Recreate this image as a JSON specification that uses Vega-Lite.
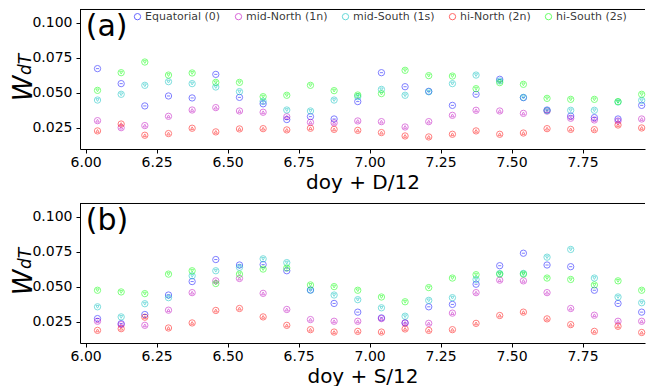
{
"$schema": "https://vega.github.io/schema/vega-lite/v6.json",
"padding": {"left": 10, "top": 8, "right": 0, "bottom": 0},
"spacing": 10,
"config": {
  "font": "DejaVu Sans",
  "view": {"stroke": null},
  "axis": {"grid": false, "domainColor": "#000", "tickColor": "#000", "labelColor": "#000", "titleColor": "#000", "labelFontSize": 14, "titleFontSize": 20, "titleFontWeight": "normal", "tickSize": 4, "labelPadding": 2, "titlePadding": 3, "labelFont": "DejaVu Sans", "titleFont": "DejaVu Sans"},
  "point": {"filled": false, "strokeWidth": 1, "opacity": 0.5}
},
"resolve": {"scale": {"color": "independent", "stroke": "independent"}, "legend": {"color": "independent", "stroke": "independent"}},
"datasets": {
"a": [
{"x":6.0417,"s":"Equatorial (0)","w":0.0673},{"x":6.0417,"s":"mid-North (1n)","w":0.0302},{"x":6.0417,"s":"mid-South (1s)","w":0.0449},{"x":6.0417,"s":"hi-North (2n)","w":0.0229},{"x":6.0417,"s":"hi-South (2s)","w":0.0518},
{"x":6.125,"s":"Equatorial (0)","w":0.0566},{"x":6.125,"s":"mid-North (1n)","w":0.0252},{"x":6.125,"s":"mid-South (1s)","w":0.0490},{"x":6.125,"s":"hi-North (2n)","w":0.0278},{"x":6.125,"s":"hi-South (2s)","w":0.0644},
{"x":6.2083,"s":"Equatorial (0)","w":0.0407},{"x":6.2083,"s":"mid-North (1n)","w":0.0267},{"x":6.2083,"s":"mid-South (1s)","w":0.0554},{"x":6.2083,"s":"hi-North (2n)","w":0.0198},{"x":6.2083,"s":"hi-South (2s)","w":0.0720},
{"x":6.2917,"s":"Equatorial (0)","w":0.0478},{"x":6.2917,"s":"mid-North (1n)","w":0.0333},{"x":6.2917,"s":"mid-South (1s)","w":0.0580},{"x":6.2917,"s":"hi-North (2n)","w":0.0210},{"x":6.2917,"s":"hi-South (2s)","w":0.0627},
{"x":6.375,"s":"Equatorial (0)","w":0.0464},{"x":6.375,"s":"mid-North (1n)","w":0.0378},{"x":6.375,"s":"mid-South (1s)","w":0.0566},{"x":6.375,"s":"hi-North (2n)","w":0.0248},{"x":6.375,"s":"hi-South (2s)","w":0.0642},
{"x":6.4583,"s":"Equatorial (0)","w":0.0632},{"x":6.4583,"s":"mid-North (1n)","w":0.0395},{"x":6.4583,"s":"mid-South (1s)","w":0.0542},{"x":6.4583,"s":"hi-North (2n)","w":0.0222},{"x":6.4583,"s":"hi-South (2s)","w":0.0575},
{"x":6.5417,"s":"Equatorial (0)","w":0.0468},{"x":6.5417,"s":"mid-North (1n)","w":0.0371},{"x":6.5417,"s":"mid-South (1s)","w":0.0509},{"x":6.5417,"s":"hi-North (2n)","w":0.0243},{"x":6.5417,"s":"hi-South (2s)","w":0.0575},
{"x":6.625,"s":"Equatorial (0)","w":0.0422},{"x":6.625,"s":"mid-North (1n)","w":0.0362},{"x":6.625,"s":"mid-South (1s)","w":0.0440},{"x":6.625,"s":"hi-North (2n)","w":0.0245},{"x":6.625,"s":"hi-South (2s)","w":0.0473},
{"x":6.7083,"s":"Equatorial (0)","w":0.0310},{"x":6.7083,"s":"mid-North (1n)","w":0.0330},{"x":6.7083,"s":"mid-South (1s)","w":0.0378},{"x":6.7083,"s":"hi-North (2n)","w":0.0236},{"x":6.7083,"s":"hi-South (2s)","w":0.0483},
{"x":6.7917,"s":"Equatorial (0)","w":0.0331},{"x":6.7917,"s":"mid-North (1n)","w":0.0290},{"x":6.7917,"s":"mid-South (1s)","w":0.0371},{"x":6.7917,"s":"hi-North (2n)","w":0.0248},{"x":6.7917,"s":"hi-South (2s)","w":0.0554},
{"x":6.875,"s":"Equatorial (0)","w":0.0314},{"x":6.875,"s":"mid-North (1n)","w":0.0286},{"x":6.875,"s":"mid-South (1s)","w":0.0449},{"x":6.875,"s":"hi-North (2n)","w":0.0240},{"x":6.875,"s":"hi-South (2s)","w":0.0516},
{"x":6.9583,"s":"Equatorial (0)","w":0.0438},{"x":6.9583,"s":"mid-North (1n)","w":0.0300},{"x":6.9583,"s":"mid-South (1s)","w":0.0473},{"x":6.9583,"s":"hi-North (2n)","w":0.0233},{"x":6.9583,"s":"hi-South (2s)","w":0.0485},
{"x":7.0417,"s":"Equatorial (0)","w":0.0644},{"x":7.0417,"s":"mid-North (1n)","w":0.0295},{"x":7.0417,"s":"mid-South (1s)","w":0.0525},{"x":7.0417,"s":"hi-North (2n)","w":0.0217},{"x":7.0417,"s":"hi-South (2s)","w":0.0495},
{"x":7.125,"s":"Equatorial (0)","w":0.0544},{"x":7.125,"s":"mid-North (1n)","w":0.0257},{"x":7.125,"s":"mid-South (1s)","w":0.0483},{"x":7.125,"s":"hi-North (2n)","w":0.0193},{"x":7.125,"s":"hi-South (2s)","w":0.0661},
{"x":7.2083,"s":"Equatorial (0)","w":0.0511},{"x":7.2083,"s":"mid-North (1n)","w":0.0295},{"x":7.2083,"s":"mid-South (1s)","w":0.0508},{"x":7.2083,"s":"hi-North (2n)","w":0.0186},{"x":7.2083,"s":"hi-South (2s)","w":0.0623},
{"x":7.2917,"s":"Equatorial (0)","w":0.0411},{"x":7.2917,"s":"mid-North (1n)","w":0.0340},{"x":7.2917,"s":"mid-South (1s)","w":0.0566},{"x":7.2917,"s":"hi-North (2n)","w":0.0205},{"x":7.2917,"s":"hi-South (2s)","w":0.0620},
{"x":7.375,"s":"Equatorial (0)","w":0.0490},{"x":7.375,"s":"mid-North (1n)","w":0.0376},{"x":7.375,"s":"mid-South (1s)","w":0.0627},{"x":7.375,"s":"hi-North (2n)","w":0.0229},{"x":7.375,"s":"hi-South (2s)","w":0.0530},
{"x":7.4583,"s":"Equatorial (0)","w":0.0597},{"x":7.4583,"s":"mid-North (1n)","w":0.0371},{"x":7.4583,"s":"mid-South (1s)","w":0.0585},{"x":7.4583,"s":"hi-North (2n)","w":0.0205},{"x":7.4583,"s":"hi-South (2s)","w":0.0573},
{"x":7.5417,"s":"Equatorial (0)","w":0.0466},{"x":7.5417,"s":"mid-North (1n)","w":0.0354},{"x":7.5417,"s":"mid-South (1s)","w":0.0468},{"x":7.5417,"s":"hi-North (2n)","w":0.0214},{"x":7.5417,"s":"hi-South (2s)","w":0.0561},
{"x":7.625,"s":"Equatorial (0)","w":0.0378},{"x":7.625,"s":"mid-North (1n)","w":0.0370},{"x":7.625,"s":"mid-South (1s)","w":0.0374},{"x":7.625,"s":"hi-North (2n)","w":0.0245},{"x":7.625,"s":"hi-South (2s)","w":0.0461},
{"x":7.7083,"s":"Equatorial (0)","w":0.0335},{"x":7.7083,"s":"mid-North (1n)","w":0.0319},{"x":7.7083,"s":"mid-South (1s)","w":0.0376},{"x":7.7083,"s":"hi-North (2n)","w":0.0240},{"x":7.7083,"s":"hi-South (2s)","w":0.0454},
{"x":7.7917,"s":"Equatorial (0)","w":0.0324},{"x":7.7917,"s":"mid-North (1n)","w":0.0307},{"x":7.7917,"s":"mid-South (1s)","w":0.0376},{"x":7.7917,"s":"hi-North (2n)","w":0.0238},{"x":7.7917,"s":"hi-South (2s)","w":0.0454},
{"x":7.875,"s":"Equatorial (0)","w":0.0314},{"x":7.875,"s":"mid-North (1n)","w":0.0300},{"x":7.875,"s":"mid-South (1s)","w":0.0435},{"x":7.875,"s":"hi-North (2n)","w":0.0271},{"x":7.875,"s":"hi-South (2s)","w":0.0438},
{"x":7.9583,"s":"Equatorial (0)","w":0.0411},{"x":7.9583,"s":"mid-North (1n)","w":0.0314},{"x":7.9583,"s":"mid-South (1s)","w":0.0447},{"x":7.9583,"s":"hi-North (2n)","w":0.0250},{"x":7.9583,"s":"hi-South (2s)","w":0.0490}
],
"b": [
{"x":6.0417,"s":"Equatorial (0)","w":0.0274},{"x":6.0417,"s":"mid-North (1n)","w":0.0255},{"x":6.0417,"s":"mid-South (1s)","w":0.0358},{"x":6.0417,"s":"hi-North (2n)","w":0.0190},{"x":6.0417,"s":"hi-South (2s)","w":0.0476},
{"x":6.125,"s":"Equatorial (0)","w":0.0238},{"x":6.125,"s":"mid-North (1n)","w":0.0231},{"x":6.125,"s":"mid-South (1s)","w":0.0286},{"x":6.125,"s":"hi-North (2n)","w":0.0202},{"x":6.125,"s":"hi-South (2s)","w":0.0464},
{"x":6.2083,"s":"Equatorial (0)","w":0.0303},{"x":6.2083,"s":"mid-North (1n)","w":0.0226},{"x":6.2083,"s":"mid-South (1s)","w":0.0380},{"x":6.2083,"s":"hi-North (2n)","w":0.0284},{"x":6.2083,"s":"hi-South (2s)","w":0.0452},
{"x":6.2917,"s":"Equatorial (0)","w":0.0442},{"x":6.2917,"s":"mid-North (1n)","w":0.0334},{"x":6.2917,"s":"mid-South (1s)","w":0.0423},{"x":6.2917,"s":"hi-North (2n)","w":0.0207},{"x":6.2917,"s":"hi-South (2s)","w":0.0591},
{"x":6.375,"s":"Equatorial (0)","w":0.0538},{"x":6.375,"s":"mid-North (1n)","w":0.0459},{"x":6.375,"s":"mid-South (1s)","w":0.0579},{"x":6.375,"s":"hi-North (2n)","w":0.0243},{"x":6.375,"s":"hi-South (2s)","w":0.0615},
{"x":6.4583,"s":"Equatorial (0)","w":0.0695},{"x":6.4583,"s":"mid-North (1n)","w":0.0543},{"x":6.4583,"s":"mid-South (1s)","w":0.0615},{"x":6.4583,"s":"hi-North (2n)","w":0.0332},{"x":6.4583,"s":"hi-South (2s)","w":0.0524},
{"x":6.5417,"s":"Equatorial (0)","w":0.0656},{"x":6.5417,"s":"mid-North (1n)","w":0.0560},{"x":6.5417,"s":"mid-South (1s)","w":0.0639},{"x":6.5417,"s":"hi-North (2n)","w":0.0346},{"x":6.5417,"s":"hi-South (2s)","w":0.0591},
{"x":6.625,"s":"Equatorial (0)","w":0.0659},{"x":6.625,"s":"mid-North (1n)","w":0.0454},{"x":6.625,"s":"mid-South (1s)","w":0.0700},{"x":6.625,"s":"hi-North (2n)","w":0.0286},{"x":6.625,"s":"hi-South (2s)","w":0.0627},
{"x":6.7083,"s":"Equatorial (0)","w":0.0615},{"x":6.7083,"s":"mid-North (1n)","w":0.0339},{"x":6.7083,"s":"mid-South (1s)","w":0.0673},{"x":6.7083,"s":"hi-North (2n)","w":0.0226},{"x":6.7083,"s":"hi-South (2s)","w":0.0635},
{"x":6.7917,"s":"Equatorial (0)","w":0.0478},{"x":6.7917,"s":"mid-North (1n)","w":0.0267},{"x":6.7917,"s":"mid-South (1s)","w":0.0476},{"x":6.7917,"s":"hi-North (2n)","w":0.0195},{"x":6.7917,"s":"hi-South (2s)","w":0.0514},
{"x":6.875,"s":"Equatorial (0)","w":0.0382},{"x":6.875,"s":"mid-North (1n)","w":0.0255},{"x":6.875,"s":"mid-South (1s)","w":0.0442},{"x":6.875,"s":"hi-North (2n)","w":0.0178},{"x":6.875,"s":"hi-South (2s)","w":0.0502},
{"x":6.9583,"s":"Equatorial (0)","w":0.0320},{"x":6.9583,"s":"mid-North (1n)","w":0.0255},{"x":6.9583,"s":"mid-South (1s)","w":0.0409},{"x":6.9583,"s":"hi-North (2n)","w":0.0183},{"x":6.9583,"s":"hi-South (2s)","w":0.0476},
{"x":7.0417,"s":"Equatorial (0)","w":0.0279},{"x":7.0417,"s":"mid-North (1n)","w":0.0274},{"x":7.0417,"s":"mid-South (1s)","w":0.0351},{"x":7.0417,"s":"hi-North (2n)","w":0.0178},{"x":7.0417,"s":"hi-South (2s)","w":0.0428},
{"x":7.125,"s":"Equatorial (0)","w":0.0243},{"x":7.125,"s":"mid-North (1n)","w":0.0243},{"x":7.125,"s":"mid-South (1s)","w":0.0291},{"x":7.125,"s":"hi-North (2n)","w":0.0200},{"x":7.125,"s":"hi-South (2s)","w":0.0394},
{"x":7.2083,"s":"Equatorial (0)","w":0.0358},{"x":7.2083,"s":"mid-North (1n)","w":0.0240},{"x":7.2083,"s":"mid-South (1s)","w":0.0404},{"x":7.2083,"s":"hi-North (2n)","w":0.0190},{"x":7.2083,"s":"hi-South (2s)","w":0.0495},
{"x":7.2917,"s":"Equatorial (0)","w":0.0375},{"x":7.2917,"s":"mid-North (1n)","w":0.0313},{"x":7.2917,"s":"mid-South (1s)","w":0.0423},{"x":7.2917,"s":"hi-North (2n)","w":0.0195},{"x":7.2917,"s":"hi-South (2s)","w":0.0563},
{"x":7.375,"s":"Equatorial (0)","w":0.0519},{"x":7.375,"s":"mid-North (1n)","w":0.0459},{"x":7.375,"s":"mid-South (1s)","w":0.0553},{"x":7.375,"s":"hi-North (2n)","w":0.0240},{"x":7.375,"s":"hi-South (2s)","w":0.0587},
{"x":7.4583,"s":"Equatorial (0)","w":0.0651},{"x":7.4583,"s":"mid-North (1n)","w":0.0548},{"x":7.4583,"s":"mid-South (1s)","w":0.0595},{"x":7.4583,"s":"hi-North (2n)","w":0.0296},{"x":7.4583,"s":"hi-South (2s)","w":0.0591},
{"x":7.5417,"s":"Equatorial (0)","w":0.0740},{"x":7.5417,"s":"mid-North (1n)","w":0.0543},{"x":7.5417,"s":"mid-South (1s)","w":0.0596},{"x":7.5417,"s":"hi-North (2n)","w":0.0320},{"x":7.5417,"s":"hi-South (2s)","w":0.0591},
{"x":7.625,"s":"Equatorial (0)","w":0.0656},{"x":7.625,"s":"mid-North (1n)","w":0.0459},{"x":7.625,"s":"mid-South (1s)","w":0.0712},{"x":7.625,"s":"hi-North (2n)","w":0.0272},{"x":7.625,"s":"hi-South (2s)","w":0.0563},
{"x":7.7083,"s":"Equatorial (0)","w":0.0644},{"x":7.7083,"s":"mid-North (1n)","w":0.0346},{"x":7.7083,"s":"mid-South (1s)","w":0.0767},{"x":7.7083,"s":"hi-North (2n)","w":0.0231},{"x":7.7083,"s":"hi-South (2s)","w":0.0553},
{"x":7.7917,"s":"Equatorial (0)","w":0.0476},{"x":7.7917,"s":"mid-North (1n)","w":0.0298},{"x":7.7917,"s":"mid-South (1s)","w":0.0563},{"x":7.7917,"s":"hi-North (2n)","w":0.0183},{"x":7.7917,"s":"hi-South (2s)","w":0.0514},
{"x":7.875,"s":"Equatorial (0)","w":0.0382},{"x":7.875,"s":"mid-North (1n)","w":0.0255},{"x":7.875,"s":"mid-South (1s)","w":0.0428},{"x":7.875,"s":"hi-North (2n)","w":0.0219},{"x":7.875,"s":"hi-South (2s)","w":0.0543},
{"x":7.9583,"s":"Equatorial (0)","w":0.0320},{"x":7.9583,"s":"mid-North (1n)","w":0.0255},{"x":7.9583,"s":"mid-South (1s)","w":0.0387},{"x":7.9583,"s":"hi-North (2n)","w":0.0175},{"x":7.9583,"s":"hi-South (2s)","w":0.0476}
]
},
"vconcat": [
{
  "width": 565, "height": 140,
  "resolve": {"axis": {"y": "independent"}},
  "layer": [
    {
      "data": {"name": "a"},
      "mark": {"type": "point", "shape": "circle", "size": 40},
      "encoding": {
        "x": {"field": "x", "type": "quantitative", "scale": {"domain": [5.98, 7.97], "nice": false, "zero": false}, "axis": {"orient": "bottom", "values": [6, 6.25, 6.5, 6.75, 7, 7.25, 7.5, 7.75], "format": ".2f", "title": "doy + D/12", "labelFlush": false}},
        "y": {"field": "w", "type": "quantitative", "scale": {"domain": [0.0100, 0.1098], "nice": false, "zero": false}, "axis": {"orient": "left", "values": [0.025, 0.05, 0.075, 0.1], "format": ".3f", "title": "W", "titleFontSize": 26, "titleFontStyle": "italic", "labelPadding": 4, "titleX": -49, "titleY": 79, "titleBaseline": "alphabetic", "titleAlign": "center"}},
        "color": {"field": "s", "type": "nominal", "sort": null,
          "scale": {"domain": ["Equatorial (0)", "mid-North (1n)", "mid-South (1s)", "hi-North (2n)", "hi-South (2s)"], "range": ["#0000ff", "#bf00bf", "#00bfbf", "#ff0000", "#00ff00"]},
          "legend": {"orient": "none", "legendX": 52, "legendY": 2, "direction": "horizontal", "columns": 5, "title": null, "labelFontSize": 11, "labelFont": "DejaVu Sans", "symbolSize": 40, "symbolStrokeWidth": 1, "symbolOpacity": 0.6, "symbolType": "circle", "labelOffset": 2, "columnPadding": 12, "labelOpacity": 0.8,
            "encode": {"labels": {"update": {"fill": {"signal": "datum.value == 'Equatorial (0)' ? '#0000ff' : datum.value == 'mid-North (1n)' ? '#bf00bf' : datum.value == 'mid-South (1s)' ? '#00bfbf' : datum.value == 'hi-North (2n)' ? '#ff0000' : '#00ff00'"}}}}}
        }
      }
    },
    {
      "data": {"name": "a"},
      "transform": [{"filter": {"field": "s", "equal": "Equatorial (0)"}}],
      "mark": {"type": "point", "shape": "stroke", "size": 10},
      "encoding": {
        "x": {"field": "x", "type": "quantitative"},
        "y": {"field": "w", "type": "quantitative", "axis": null},
        "stroke": {"field": "s", "type": "nominal", "legend": null, "scale": {"domain": ["Equatorial (0)", "mid-North (1n)", "mid-South (1s)", "hi-North (2n)", "hi-South (2s)"], "range": ["#0000ff", "#bf00bf", "#00bfbf", "#ff0000", "#00ff00"]}}
      }
    },
    {
      "data": {"name": "a"},
      "transform": [{"filter": {"field": "s", "oneOf": ["mid-North (1n)", "hi-North (2n)"]}}],
      "mark": {"type": "point", "shape": "triangle-up", "size": 10},
      "encoding": {
        "x": {"field": "x", "type": "quantitative"},
        "y": {"field": "w", "type": "quantitative", "axis": null},
        "stroke": {"field": "s", "type": "nominal", "legend": null}
      }
    },
    {
      "data": {"name": "a"},
      "transform": [{"filter": {"field": "s", "oneOf": ["mid-South (1s)", "hi-South (2s)"]}}],
      "mark": {"type": "point", "shape": "triangle-down", "size": 10},
      "encoding": {
        "x": {"field": "x", "type": "quantitative"},
        "y": {"field": "w", "type": "quantitative", "axis": null},
        "stroke": {"field": "s", "type": "nominal", "legend": null}
      }
    },
    {
      "data": {"values": [{"label": "(a)"}]},
      "mark": {"type": "text", "fontSize": 30, "align": "left", "baseline": "alphabetic", "color": "#000", "font": "DejaVu Sans"},
      "encoding": {
        "x": {"datum": 6.0, "type": "quantitative"},
        "y": {"datum": 0.0905, "type": "quantitative", "axis": null},
        "text": {"field": "label"}
      }
    },
    {
      "data": {"values": [{"edge": "top"}]},
      "mark": {"type": "rule", "color": "#000", "strokeWidth": 1},
      "encoding": {
        "y": {"datum": 0.10945, "type": "quantitative", "axis": {"orient": "left", "title": "dT", "labels": false, "ticks": false, "domain": false, "grid": false, "titleFontSize": 17, "titleFontStyle": "italic", "titleX": -50, "titleY": 55, "titleBaseline": "alphabetic", "titleAlign": "center"}}
      }
    }
  ]
},
{
  "width": 565, "height": 140,
  "resolve": {"axis": {"y": "independent"}},
  "layer": [
    {
      "data": {"name": "b"},
      "mark": {"type": "point", "shape": "circle", "size": 40},
      "encoding": {
        "x": {"field": "x", "type": "quantitative", "scale": {"domain": [5.98, 7.97], "nice": false, "zero": false}, "axis": {"orient": "bottom", "values": [6, 6.25, 6.5, 6.75, 7, 7.25, 7.5, 7.75], "format": ".2f", "title": "doy + S/12", "labelFlush": false}},
        "y": {"field": "w", "type": "quantitative", "scale": {"domain": [0.0100, 0.1098], "nice": false, "zero": false}, "axis": {"orient": "left", "values": [0.025, 0.05, 0.075, 0.1], "format": ".3f", "title": "W", "titleFontSize": 26, "titleFontStyle": "italic", "labelPadding": 4, "titleX": -49, "titleY": 79, "titleBaseline": "alphabetic", "titleAlign": "center"}},
        "color": {"field": "s", "type": "nominal", "sort": null,
          "scale": {"domain": ["Equatorial (0)", "mid-North (1n)", "mid-South (1s)", "hi-North (2n)", "hi-South (2s)"], "range": ["#0000ff", "#bf00bf", "#00bfbf", "#ff0000", "#00ff00"]},
          "legend": null}
      }
    },
    {
      "data": {"name": "b"},
      "transform": [{"filter": {"field": "s", "equal": "Equatorial (0)"}}],
      "mark": {"type": "point", "shape": "stroke", "size": 10},
      "encoding": {
        "x": {"field": "x", "type": "quantitative"},
        "y": {"field": "w", "type": "quantitative", "axis": null},
        "stroke": {"field": "s", "type": "nominal", "legend": null, "scale": {"domain": ["Equatorial (0)", "mid-North (1n)", "mid-South (1s)", "hi-North (2n)", "hi-South (2s)"], "range": ["#0000ff", "#bf00bf", "#00bfbf", "#ff0000", "#00ff00"]}}
      }
    },
    {
      "data": {"name": "b"},
      "transform": [{"filter": {"field": "s", "oneOf": ["mid-North (1n)", "hi-North (2n)"]}}],
      "mark": {"type": "point", "shape": "triangle-up", "size": 10},
      "encoding": {
        "x": {"field": "x", "type": "quantitative"},
        "y": {"field": "w", "type": "quantitative", "axis": null},
        "stroke": {"field": "s", "type": "nominal", "legend": null}
      }
    },
    {
      "data": {"name": "b"},
      "transform": [{"filter": {"field": "s", "oneOf": ["mid-South (1s)", "hi-South (2s)"]}}],
      "mark": {"type": "point", "shape": "triangle-down", "size": 10},
      "encoding": {
        "x": {"field": "x", "type": "quantitative"},
        "y": {"field": "w", "type": "quantitative", "axis": null},
        "stroke": {"field": "s", "type": "nominal", "legend": null}
      }
    },
    {
      "data": {"values": [{"label": "(b)"}]},
      "mark": {"type": "text", "fontSize": 30, "align": "left", "baseline": "alphabetic", "color": "#000", "font": "DejaVu Sans"},
      "encoding": {
        "x": {"datum": 6.0, "type": "quantitative"},
        "y": {"datum": 0.0905, "type": "quantitative", "axis": null},
        "text": {"field": "label"}
      }
    },
    {
      "data": {"values": [{"edge": "top"}]},
      "mark": {"type": "rule", "color": "#000", "strokeWidth": 1},
      "encoding": {
        "y": {"datum": 0.10945, "type": "quantitative", "axis": {"orient": "left", "title": "dT", "labels": false, "ticks": false, "domain": false, "grid": false, "titleFontSize": 17, "titleFontStyle": "italic", "titleX": -50, "titleY": 55, "titleBaseline": "alphabetic", "titleAlign": "center"}}
      }
    }
  ]
}
]
}
